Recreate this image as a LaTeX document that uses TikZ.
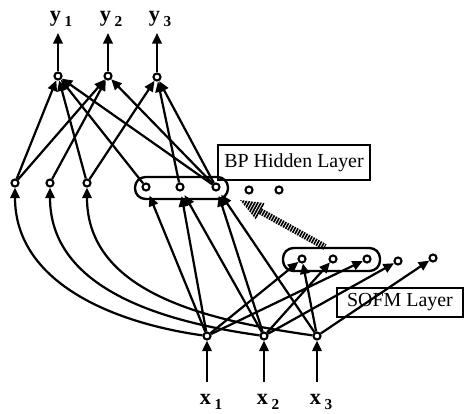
\documentclass[tikz,border=0pt]{standalone}
\usepackage{fontspec}
\setmainfont{Liberation Serif}
\usetikzlibrary{arrows.meta,calc}
\newcommand{\subidx}[1]{\,\raisebox{-0.55ex}{\fontsize{13}{13}\selectfont #1}}

\begin{document}
\begin{tikzpicture}
[x=0.03cm,y=0.03cm,
  unitdecorate/.style={shape=circle,draw,line width=1.8pt,minimum size=6pt,inner sep=0pt},
  linedecorate/.style={-{Triangle[length=9pt,width=8pt]},line width=1.9pt},
  layerdecorate/.style={draw,line width=2pt,rounded corners=9pt},
  boxdecorate/.style={draw,line width=2pt,inner sep=0pt,font=\fontsize{17}{18}\selectfont},
  hatchdecorate/.style={dash pattern=on 1.4pt off 0.9pt},
  labeldecorate/.style={font=\fontsize{19}{20}\selectfont\bfseries}]
\useasboundingbox (0,0) rectangle (465,414);
%% units of all layers
\foreach \nodename/\x/\y in {o1/58/338, o2/108/338, o3/157/337,
  h1/15/231, h2/50/231, h3/87/231, b1/146/227, b2/180/227, b3/216/227,
  e1/249/224, e2/279/224, s1/302/155, s2/333/155, s3/367/155,
  s4/398/153, s5/433/156, x1/207/78, x2/264/78, x3/317/78}
{
  \node (\nodename) at (\x,\y) [unitdecorate] {};
}
%% outputs and inputs
\foreach \n/\x in {1/58, 2/108, 3/157}
{
  \coordinate (t\n) at (\x,381);
  \node (ly\n) at (\x+3,395) [labeldecorate] {y\subidx{\n}};
}
\foreach \n/\x in {1/207, 2/264, 3/317}
{
  \coordinate (i\n) at (\x,32);
  \node (lx\n) at (\x+4,12) [labeldecorate] {x\subidx{\n}};
}
%% layers and their names
\draw[layerdecorate] (135,237) rectangle (228,215);
\draw[layerdecorate] (283,166) rectangle (380,143);
\node (bplabel) at (294,251.5) [boxdecorate,minimum width=4.56cm,minimum height=1.05cm] {BP Hidden Layer};
\node (sofmlabel) at (400,111.5) [boxdecorate,minimum width=3.78cm,minimum height=0.87cm] {SOFM Layer};
%% hatched arrow
\coordinate (htail) at (325,167);
\coordinate (htip) at (240,214);
\coordinate (hbase) at ($(htip)!0.7cm!(htail)$);
\coordinate (hleft) at ($(hbase)!0.28cm!90:(htip)$);
\coordinate (hright) at ($(hbase)!0.28cm!-90:(htip)$);
\draw[hatchdecorate,line width=5.5pt] (hbase) -- (htail);
\begin{scope}
  \clip (htip) -- (hleft) -- (hright) -- cycle;
  \draw[hatchdecorate,line width=20pt] (htip) -- (hbase);
\end{scope}
%% edges or lines
\path
\foreach \startnode/\endnode in {h1/o1, h3/o1, b1/o1, b3/o1, h1/o2, h2/o2,
  b3/o2, h3/o3, b2/o3, b3/o3, x1/s1, x1/s3, x2/s2, x2/s4, x3/s1, x3/s5,
  o1/t1, o2/t2, o3/t3, i1/x1, i2/x2, i3/x3}
{
  (\startnode) edge[linedecorate] (\endnode)
};
\path
\foreach \startnode/\endnode in {x1/b1, x1/b2, x2/b2, x2/b3, x3/b3}
{
  (\startnode) edge[linedecorate,shorten >=4pt] (\endnode)
};
\path
\foreach \startnode/\endnode in {x1/h1, x2/h2, x3/h3}
{
  (\startnode) edge[linedecorate,out=172,in=-90] (\endnode)
};
\end{tikzpicture}
\end{document}
